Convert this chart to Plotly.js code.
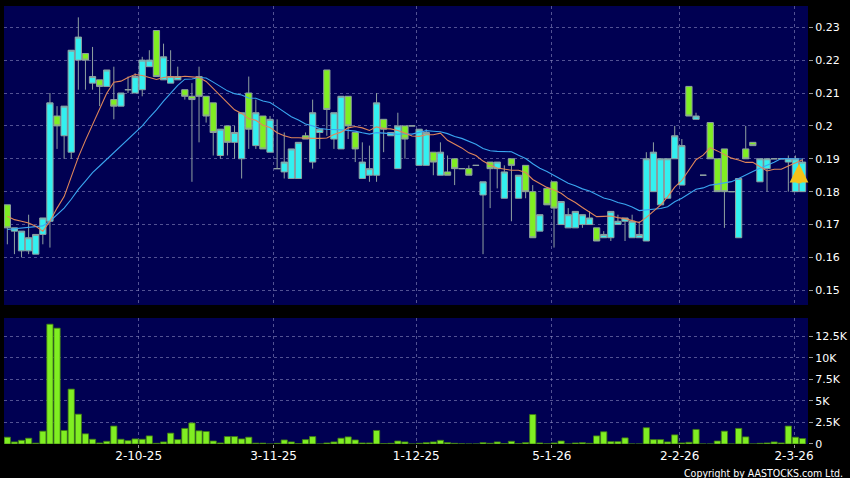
<!DOCTYPE html>
<html>
<head>
<meta charset="utf-8">
<script src="https://cdn.plot.ly/plotly-3.0.1.min.js"></script>
<style>
html,body{margin:0;padding:0;background:#000;}
#chart{width:850px;height:478px;}
</style>
</head>
<body>
<div id="chart"></div>
<script>
// ---- data ----
const opens = [
0.176,0.168,0.162,0.162,0.161,0.167,0.171,0.203,0.197,0.192,
0.220,0.222,0.213,0.214,0.212,0.208,0.206,0.211,0.210,0.211,
0.218,0.229,0.214,0.213,0.214,0.211,0.209,0.215,0.209,0.207,
0.191,0.200,0.195,0.190,0.210,0.194,0.203,0.192,0.187,0.186,
0.184,0.184,0.197,0.189,0.198,0.217,0.196,0.193,0.209,0.198,
0.184,0.185,0.185,0.202,0.197,0.187,0.200,0.200,0.188,0.188,
0.192,0.185,0.186,0.190,0.187,0.187,0.188,0.179,0.189,0.187,
0.178,0.190,0.178,0.188,0.180,0.168,0.181,0.183,0.170,0.169,
0.169,0.170,0.170,0.169,0.166,0.166,0.170,0.171,0.166,0.166,
0.165,0.180,0.176,0.178,0.190,0.182,0.212,0.202,0.185,0.201,
0.190,0.193,0.180,0.166,0.193,0.195,0.183,0.187,0.190,0.190,
0.189,0.180,0.180];
const highs = [
0.176,0.169,0.168,0.173,0.167,0.172,0.210,0.206,0.206,0.223,
0.233,0.222,0.224,0.214,0.217,0.218,0.210,0.215,0.216,0.221,
0.223,0.229,0.225,0.223,0.218,0.211,0.213,0.218,0.209,0.207,
0.199,0.200,0.200,0.204,0.215,0.208,0.203,0.203,0.202,0.198,
0.193,0.195,0.198,0.208,0.199,0.217,0.204,0.209,0.209,0.198,
0.195,0.194,0.210,0.202,0.198,0.204,0.200,0.200,0.199,0.199,
0.192,0.195,0.191,0.190,0.187,0.188,0.188,0.183,0.189,0.189,
0.188,0.190,0.185,0.188,0.182,0.173,0.181,0.183,0.177,0.175,
0.174,0.173,0.174,0.169,0.168,0.174,0.173,0.172,0.173,0.171,
0.192,0.195,0.190,0.190,0.200,0.196,0.212,0.204,0.185,0.201,
0.190,0.193,0.180,0.184,0.200,0.195,0.190,0.190,0.190,0.190,
0.191,0.191,0.190];
const lows = [
0.164,0.161,0.160,0.161,0.161,0.164,0.163,0.193,0.190,0.190,
0.211,0.211,0.211,0.206,0.212,0.202,0.206,0.210,0.210,0.209,
0.218,0.215,0.214,0.213,0.214,0.208,0.183,0.195,0.201,0.191,
0.190,0.191,0.190,0.184,0.193,0.193,0.193,0.192,0.187,0.184,
0.184,0.184,0.196,0.187,0.193,0.197,0.193,0.193,0.196,0.189,
0.184,0.183,0.183,0.192,0.197,0.187,0.190,0.200,0.188,0.188,
0.185,0.185,0.185,0.182,0.187,0.185,0.188,0.161,0.175,0.181,
0.178,0.171,0.178,0.178,0.166,0.168,0.176,0.163,0.170,0.169,
0.169,0.169,0.170,0.165,0.166,0.165,0.170,0.165,0.166,0.166,
0.165,0.180,0.176,0.178,0.190,0.182,0.203,0.202,0.185,0.190,
0.180,0.169,0.180,0.166,0.190,0.194,0.183,0.180,0.190,0.190,
0.180,0.180,0.180];
const closes = [
0.169,0.169,0.168,0.166,0.167,0.172,0.207,0.200,0.206,0.223,
0.227,0.220,0.215,0.212,0.217,0.206,0.210,0.211,0.215,0.220,
0.220,0.215,0.221,0.215,0.215,0.209,0.208,0.209,0.203,0.198,
0.199,0.195,0.198,0.204,0.199,0.204,0.193,0.202,0.187,0.189,
0.193,0.195,0.196,0.204,0.199,0.205,0.204,0.209,0.200,0.193,
0.189,0.187,0.207,0.199,0.198,0.200,0.196,0.200,0.199,0.198,
0.189,0.192,0.185,0.187,0.187,0.185,0.188,0.183,0.187,0.189,
0.186,0.188,0.185,0.180,0.166,0.173,0.176,0.175,0.177,0.173,
0.174,0.173,0.172,0.165,0.167,0.174,0.171,0.172,0.171,0.167,
0.190,0.192,0.190,0.190,0.197,0.194,0.203,0.203,0.185,0.190,
0.180,0.180,0.180,0.184,0.190,0.194,0.190,0.190,0.190,0.190,
0.190,0.190,0.189];
const ma10 = [
0.1725,0.1715,0.1710,0.1705,0.1695,0.1680,0.1710,0.1750,0.1785,0.1847,
0.1905,0.1956,0.2003,0.2049,0.2099,0.2133,0.2136,0.2147,0.2156,0.2153,
0.2146,0.2141,0.2147,0.2150,0.2148,0.2151,0.2149,0.2147,0.2135,0.2113,
0.2092,0.2072,0.2049,0.2038,0.2022,0.2017,0.2002,0.1995,0.1979,0.1970,
0.1964,0.1964,0.1962,0.1962,0.1962,0.1963,0.1974,0.1981,0.1994,0.1998,
0.1994,0.1986,0.1997,0.1992,0.1991,0.1986,0.1978,0.1969,0.1968,0.1973,
0.1973,0.1978,0.1956,0.1944,0.1933,0.1918,0.1910,0.1893,0.1881,0.1872,
0.1869,0.1865,0.1865,0.1858,0.1837,0.1825,0.1813,0.1805,0.1795,0.1779,
0.1767,0.1752,0.1739,0.1724,0.1725,0.1726,0.1721,0.1718,0.1712,0.1706,
0.1722,0.1741,0.1759,0.1784,0.1814,0.1834,0.1866,0.1897,0.1911,0.1934,
0.1924,0.1912,0.1902,0.1896,0.1889,0.1889,0.1876,0.1863,0.1868,0.1868,
0.1878,0.1888,0.1897];
const ma20 = [
0.1685,0.1687,0.1689,0.1691,0.1693,0.1696,0.1710,0.1730,0.1750,0.1777,
0.1807,0.1832,0.1858,0.1878,0.1898,0.1918,0.1938,0.1959,0.1979,0.2000,
0.20255,0.20485,0.2075,0.20995,0.21235,0.2142,0.21425,0.2147,0.21455,0.2133,
0.2119,0.21065,0.2098,0.2094,0.2085,0.2084,0.20755,0.2071,0.2057,0.20415,
0.2028,0.2018,0.20055,0.2000,0.1992,0.1990,0.1988,0.1988,0.19865,0.1984,
0.1979,0.1975,0.19795,0.1977,0.19765,0.19745,0.1976,0.1975,0.1981,0.19855,
0.19835,0.1982,0.19765,0.1968,0.1962,0.1952,0.1944,0.1931,0.19245,0.19225,
0.1921,0.19215,0.19105,0.1901,0.1885,0.18715,0.18615,0.1849,0.1838,0.18255,
0.1818,0.18085,0.1802,0.1791,0.1781,0.17755,0.1767,0.17615,0.17535,0.17425,
0.17445,0.17465,0.1749,0.1754,0.17695,0.1780,0.17935,0.18075,0.18115,0.1820,
0.1823,0.18265,0.18305,0.1840,0.18515,0.18615,0.1871,0.1880,0.18895,0.1901,
0.1901,0.1900,0.18995];
const volumes = [
790,240,430,670,100,1490,13900,13440,1570,6370,
3460,1180,550,120,315,2080,550,390,590,550,
940,80,240,1260,510,1810,2440,1530,1450,350,
120,865,865,590,790,100,100,0,80,470,
240,40,510,865,0,120,240,670,825,470,
120,120,1570,40,80,350,240,0,80,160,
240,430,160,80,20,0,0,160,80,240,
40,315,40,160,3420,120,20,120,350,0,
120,160,80,940,1420,275,275,710,0,0,
1890,510,510,240,1060,120,200,1690,0,0,
350,1490,0,1810,825,0,80,120,240,120,
2080,790,630];
const xTickLabels = ['2-10-25','3-11-25','1-12-25','5-1-26','2-2-26','2-3-26'];
const xTickPos = [18.5, 37.5, 57.6, 76.7, 94.7, 110.8];
const priceTicks = [0.15,0.16,0.17,0.18,0.19,0.20,0.21,0.22,0.23];
const priceTickText = ['0.15','0.16','0.17','0.18','0.19','0.2','0.21','0.22','0.23'];
const volTicks = [0,2500,5000,7500,10000,12500];
const volTickText = ['0','2.5K','5K','7.5K','10K','12.5K'];

// ---- drawing ----
const idx = closes.map((_, i) => i);
const CYAN = '#33f0f0', GREEN = '#80ee22', NAVY = '#000052';
const gridCol = 'rgba(150,150,200,0.55)';
const tickFont = {family:'DejaVu Sans', size:11, color:'#ffffff'};

const traces = [
  {
    type:'candlestick', x: idx, open: opens, high: highs, low: lows, close: closes,
    xaxis:'x', yaxis:'y',
    increasing:{fillcolor: CYAN, line:{color:'#8fa0a0', width:1}},
    decreasing:{fillcolor: GREEN, line:{color:'#8fa0a0', width:1}},
    whiskerwidth: 0, hoverinfo:'skip', showlegend:false
  },
  {type:'scatter', mode:'lines', x: idx, y: ma20, xaxis:'x', yaxis:'y',
   line:{color:'#3aa6f0', width:1.1}, hoverinfo:'skip', showlegend:false},
  {type:'scatter', mode:'lines', x: idx, y: ma10, xaxis:'x', yaxis:'y',
   line:{color:'#e0865a', width:1.1}, hoverinfo:'skip', showlegend:false},
  {type:'bar', x: idx, y: volumes, xaxis:'x2', yaxis:'y2',
   marker:{color: GREEN, line:{color:'#3f7a14', width:0.8}},
   hoverinfo:'skip', showlegend:false}
];

const last = idx.length - 1;
const layout = {
  width:850, height:478,
  paper_bgcolor:'#000000', plot_bgcolor: NAVY,
  margin:{l:4, r:42, t:6, b:34},
  showlegend:false,
  boxgap:0.12, boxgroupgap:0, bargap:0.12,
  xaxis:{
    domain:[0,1], anchor:'y', range:[-0.47, 112.77],
    rangeslider:{visible:false},
    tickvals: xTickPos, ticktext: xTickLabels, showticklabels:false,
    ticks:'', showgrid:true, gridcolor: gridCol, griddash:'3px,3px', gridwidth:1,
    zeroline:false, showline:false
  },
  yaxis:{
    domain:[0.3174,1], anchor:'x', side:'right', range:[0.14555, 0.23645],
    tickvals: priceTicks, ticktext: priceTickText,
    ticks:'outside', ticklen:4, tickcolor:'#9a9a9a', tickfont: tickFont,
    showgrid:true, gridcolor: gridCol, griddash:'3px,3px', gridwidth:1,
    zeroline:false, showline:false
  },
  xaxis2:{
    domain:[0,1], anchor:'y2', matches:'x', range:[-0.47, 112.77],
    tickvals: xTickPos, ticktext: xTickLabels,
    ticks:'outside', ticklen:3, tickcolor:'#9a9a9a',
    ticklabelstandoff:-2,
    tickfont:{family:'DejaVu Sans', size:12, color:'#ffffff'},
    showgrid:true, gridcolor: gridCol, griddash:'3px,3px', gridwidth:1,
    zeroline:false, showline:false
  },
  yaxis2:{
    domain:[0,0.2877], anchor:'x2', side:'right', range:[0, 14620],
    tickvals: volTicks, ticktext: volTickText,
    ticks:'outside', ticklen:4, tickcolor:'#9a9a9a', tickfont: tickFont,
    showgrid:true, gridcolor: gridCol, griddash:'3px,3px', gridwidth:1,
    zeroline:false, showline:false
  },
  annotations:[
    {xref:'x', yref:'y', x: idx[last] - 0.5, y: closes[last] - 0.0005,
     text:'', showarrow:true, ax:0, ay:21, arrowhead:2, arrowsize:0.75,
     arrowwidth:5, arrowcolor:'#f4c21a', standoff:0, startstandoff:0},
    {xref:'paper', yref:'paper', x:1, y:0, xanchor:'right', yanchor:'middle',
     xshift:37, yshift:-29, text:'Copyright by AASTOCKS.com Ltd.', showarrow:false,
     font:{family:'DejaVu Sans Condensed', size:10.5, color:'#ffffff'}}
  ]
};

Plotly.newPlot('chart', traces, layout, {staticPlot:true, displayModeBar:false});
</script>
</body>
</html>
